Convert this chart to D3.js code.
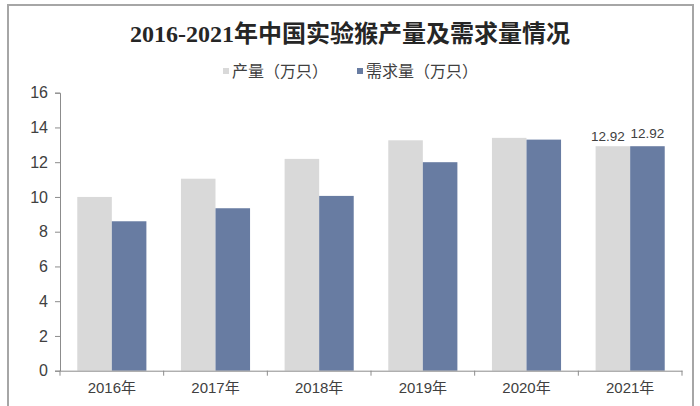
<!DOCTYPE html>
<html>
<head>
<meta charset="utf-8">
<script src="https://cdn.jsdelivr.net/npm/d3@7"></script>
<style>
  body { margin: 0; background: #fff; }
  text { font-family: "Liberation Sans", Arial, "Noto Sans CJK SC", sans-serif; fill: #404040; }
</style>
</head>
<body>
<script>
var years = ["2016年", "2017年", "2018年", "2019年", "2020年", "2021年"];
var seriesNames = ["产量（万只）", "需求量（万只）"];
var production = [10.0, 11.05, 12.19, 13.26, 13.4, 12.92];
var demand = [8.6, 9.35, 10.06, 12.0, 13.3, 12.92];
var yTicks = [0, 2, 4, 6, 8, 10, 12, 14, 16];
var labelledYears = ["2021年"];

var colors = ["#d9d9d9", "#687ca2"];
var width = 700, height = 406;

var svg = d3.select("body").append("svg")
    .attr("width", width).attr("height", height);

// outer frame
svg.append("rect").attr("x", 8).attr("y", 5).attr("width", 685).attr("height", 430)
    .attr("fill", "none").attr("stroke", "#a6a6a6").attr("stroke-width", 2);

// title
svg.append("text").attr("x", 350).attr("y", 42).attr("text-anchor", "middle")
    .style("font-family", "\"Liberation Serif\", \"Noto Sans CJK SC\", serif")
    .style("font-size", "24px").style("font-weight", "bold").style("fill", "#262626")
    .text("2016-2021年中国实验猴产量及需求量情况");

// legend
var legendX = [223, 357];
var legend = svg.append("g").selectAll("g").data(seriesNames).enter().append("g")
    .attr("transform", function (d, i) { return "translate(" + legendX[i] + ",71)"; });
legend.append("rect").attr("x", 0).attr("y", -3).attr("width", 6).attr("height", 6)
    .attr("fill", function (d, i) { return colors[i]; });
legend.append("text").attr("x", 9).attr("y", 6).style("font-size", "16px")
    .style("font-family", "\"Noto Sans CJK SC\", sans-serif").text(function (d) { return d; });

var x0 = d3.scaleBand().domain(years).range([60, 682]).padding(0);
var x1 = d3.scaleBand().domain(seriesNames).range([0, x0.bandwidth()])
    .paddingInner(0).paddingOuter(0.5);
var y = d3.scaleLinear().domain([0, 16]).range([370.7, 92.7]);

var rows = years.map(function (yr, i) {
    return { year: yr, values: [production[i], demand[i]] };
});

// bars
var groups = svg.append("g").selectAll("g").data(rows).enter().append("g")
    .attr("transform", function (d) { return "translate(" + x0(d.year) + ",0)"; });

groups.selectAll("rect").data(function (d) {
    return d.values.map(function (v, i) { return { name: seriesNames[i], value: v, year: d.year, i: i }; });
}).enter().append("rect")
    .attr("x", function (d) { return x1(d.name); })
    .attr("y", function (d) { return y(d.value); })
    .attr("width", x1.bandwidth())
    .attr("height", function (d) { return y(0) - y(d.value); })
    .attr("fill", function (d) { return colors[d.i]; });

// value labels
groups.selectAll("text.val").data(function (d) {
    if (labelledYears.indexOf(d.year) < 0) return [];
    return d.values.map(function (v, i) { return { name: seriesNames[i], value: v, i: i }; });
}).enter().append("text").attr("class", "val")
    .attr("x", function (d) { return x1(d.name) + x1.bandwidth() / 2 + (d.i === 0 ? -5 : 0); })
    .attr("y", function (d) { return y(d.value) - (d.i === 0 ? 5 : 8); })
    .attr("text-anchor", "middle").style("font-size", "13.5px")
    .text(function (d) { return d3.format(".2f")(d.value); });

// y axis
var yAxis = svg.append("g").attr("transform", "translate(60,0)")
    .call(d3.axisLeft(y).tickValues(yTicks).tickSize(5).tickPadding(7));
yAxis.selectAll("line").attr("stroke", "#8c8c8c");
yAxis.select(".domain").attr("stroke", "#8c8c8c");
yAxis.selectAll("text").style("font-size", "16px").style("fill", "#404040")
    .style("font-family", "\"Liberation Sans\", Arial, sans-serif");

// x axis
var xAxis = svg.append("g").attr("transform", "translate(0," + y(0) + ")")
    .call(d3.axisBottom(x0).tickSize(0).tickPadding(12));
xAxis.select(".domain").attr("stroke", "#8c8c8c");
xAxis.selectAll("text").style("font-size", "15px").style("fill", "#404040")
    .style("font-family", "\"Liberation Sans\", Arial, \"Noto Sans CJK SC\", sans-serif");
var edges = years.map(function (d) { return x0(d); }).concat([x0.range()[1]]);
xAxis.selectAll("line.edge").data(edges).enter().append("line").attr("class", "edge")
    .attr("x1", function (d) { return d; }).attr("x2", function (d) { return d; })
    .attr("y1", 0).attr("y2", 5).attr("stroke", "#8c8c8c");
</script>
</body>
</html>
